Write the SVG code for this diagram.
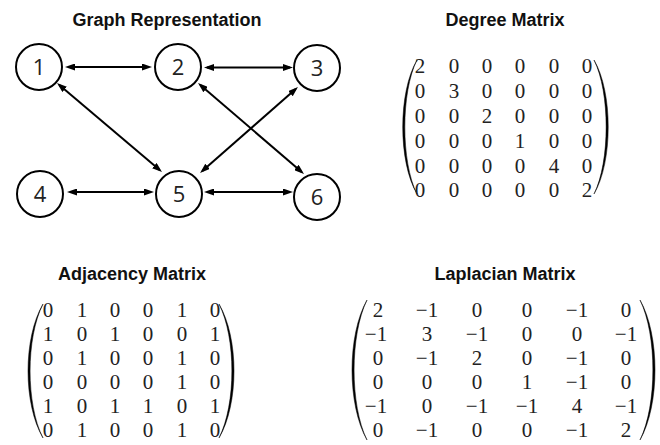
<svg xmlns="http://www.w3.org/2000/svg" width="660" height="445" viewBox="0 0 660 445">
<style>
.title{font-family:"Liberation Sans",Arial,sans-serif;font-weight:bold;font-size:18px;fill:#111;text-anchor:middle}
.node circle{fill:#fff;stroke:#000;stroke-width:2}
.node text{font-family:"Open Sans","Liberation Sans",Arial,sans-serif;font-size:22px;fill:#222;text-anchor:middle}
.edge{stroke:#000;stroke-width:2;fill:none;marker-start:url(#ah);marker-end:url(#ah)}
.m text{font-family:"Liberation Serif","Times New Roman",serif;font-size:21px;fill:#222;text-anchor:middle}
.paren{fill:#000;stroke:#000;stroke-width:0.5}
</style>
<defs>
<marker id="ah" viewBox="0 0 10 7" refX="7" refY="3.5" markerWidth="10" markerHeight="7" markerUnits="userSpaceOnUse" orient="auto-start-reverse">
<path d="M0,0 L10,3.5 L0,7 z" fill="#000"/>
</marker>
</defs>
<rect width="660" height="445" fill="#fff"/>

<text class="title" x="167" y="26">Graph Representation</text>
<text class="title" x="505" y="26">Degree Matrix</text>
<text class="title" x="132" y="280">Adjacency Matrix</text>
<text class="title" x="505" y="280">Laplacian Matrix</text>

<g id="connectors">
<line class="edge" x1="68" y1="67" x2="149" y2="67"/>
<line class="edge" x1="207" y1="67.5" x2="290" y2="67.5"/>
<line class="edge" x1="59.3" y1="84.9" x2="159.7" y2="170.1"/>
<line class="edge" x1="200.3" y1="85" x2="301.7" y2="172"/>
<line class="edge" x1="295.7" y1="89" x2="202.3" y2="171"/>
<line class="edge" x1="70" y1="192" x2="151" y2="192"/>
<line class="edge" x1="207" y1="192" x2="290" y2="192"/>
</g>

<g id="node1" class="node"><circle cx="39" cy="67" r="23"/><text x="39" y="75">1</text></g>
<g id="node2" class="node"><circle cx="178" cy="67" r="23"/><text x="178" y="75">2</text></g>
<g id="node3" class="node"><circle cx="317" cy="68" r="23"/><text x="317" y="76">3</text></g>
<g id="node4" class="node"><circle cx="40" cy="194" r="23"/><text x="40" y="202">4</text></g>
<g id="node5" class="node"><circle cx="179" cy="194" r="23"/><text x="179" y="202">5</text></g>
<g id="node6" class="node"><circle cx="317" cy="197" r="23"/><text x="317" y="205">6</text></g>

<g id="degree" class="m">
<path class="paren" d="M417,60 C398,92 398,162 417,194 C400.8,162 400.8,92 417,60 Z"/>
<path class="paren" d="M594,60 C613,92 613,162 594,194 C610.2,162 610.2,92 594,60 Z"/>
<text x="420" y="73">2</text><text x="454" y="73">0</text><text x="487" y="73">0</text><text x="520" y="73">0</text><text x="554" y="73">0</text><text x="587" y="73">0</text>
<text x="420" y="98">0</text><text x="454" y="98">3</text><text x="487" y="98">0</text><text x="520" y="98">0</text><text x="554" y="98">0</text><text x="587" y="98">0</text>
<text x="420" y="123">0</text><text x="454" y="123">0</text><text x="487" y="123">2</text><text x="520" y="123">0</text><text x="554" y="123">0</text><text x="587" y="123">0</text>
<text x="420" y="148">0</text><text x="454" y="148">0</text><text x="487" y="148">0</text><text x="520" y="148">1</text><text x="554" y="148">0</text><text x="587" y="148">0</text>
<text x="420" y="173">0</text><text x="454" y="173">0</text><text x="487" y="173">0</text><text x="520" y="173">0</text><text x="554" y="173">4</text><text x="587" y="173">0</text>
<text x="420" y="197">0</text><text x="454" y="197">0</text><text x="487" y="197">0</text><text x="520" y="197">0</text><text x="554" y="197">0</text><text x="587" y="197">2</text>
</g>

<g id="adjacency" class="m">
<path class="paren" d="M43,304 C23,338 23,404 43,438 C25.8,404 25.8,338 43,304 Z"/>
<path class="paren" d="M219,304 C239,338 239,404 219,438 C236.2,404 236.2,338 219,304 Z"/>
<text x="48" y="317">0</text><text x="82" y="317">1</text><text x="115" y="317">0</text><text x="148" y="317">0</text><text x="182" y="317">1</text><text x="215" y="317">0</text>
<text x="48" y="341">1</text><text x="82" y="341">0</text><text x="115" y="341">1</text><text x="148" y="341">0</text><text x="182" y="341">0</text><text x="215" y="341">1</text>
<text x="48" y="365">0</text><text x="82" y="365">1</text><text x="115" y="365">0</text><text x="148" y="365">0</text><text x="182" y="365">1</text><text x="215" y="365">0</text>
<text x="48" y="389">0</text><text x="82" y="389">0</text><text x="115" y="389">0</text><text x="148" y="389">0</text><text x="182" y="389">1</text><text x="215" y="389">0</text>
<text x="48" y="413">1</text><text x="82" y="413">0</text><text x="115" y="413">1</text><text x="148" y="413">1</text><text x="182" y="413">0</text><text x="215" y="413">1</text>
<text x="48" y="437">0</text><text x="82" y="437">1</text><text x="115" y="437">0</text><text x="148" y="437">0</text><text x="182" y="437">1</text><text x="215" y="437">0</text>
</g>

<g id="laplacian" class="m">
<path class="paren" d="M367,300 C347,335 347,405 367,440 C349.8,405 349.8,335 367,300 Z"/>
<path class="paren" d="M640,300 C660,335 660,405 640,440 C657.2,405 657.2,335 640,300 Z"/>
<text x="378" y="317">2</text><text x="427" y="317">−1</text><text x="477" y="317">0</text><text x="527" y="317">0</text><text x="577" y="317">−1</text><text x="626" y="317">0</text>
<text x="376" y="341">−1</text><text x="427" y="341">3</text><text x="477" y="341">−1</text><text x="527" y="341">0</text><text x="577" y="341">0</text><text x="626" y="341">−1</text>
<text x="378" y="365">0</text><text x="427" y="365">−1</text><text x="477" y="365">2</text><text x="527" y="365">0</text><text x="577" y="365">−1</text><text x="626" y="365">0</text>
<text x="378" y="389">0</text><text x="427" y="389">0</text><text x="477" y="389">0</text><text x="527" y="389">1</text><text x="577" y="389">−1</text><text x="626" y="389">0</text>
<text x="376" y="413">−1</text><text x="427" y="413">0</text><text x="477" y="413">−1</text><text x="527" y="413">−1</text><text x="577" y="413">4</text><text x="626" y="413">−1</text>
<text x="378" y="437">0</text><text x="427" y="437">−1</text><text x="477" y="437">0</text><text x="527" y="437">0</text><text x="577" y="437">−1</text><text x="626" y="437">2</text>
</g>
</svg>
